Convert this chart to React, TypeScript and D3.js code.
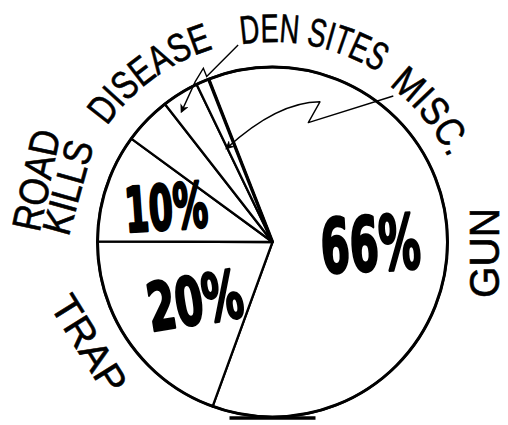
import React from "react";
import * as d3 from "d3";

// ---- data ----
const categories = ["GUN", "TRAP", "ROAD KILLS", "DISEASE", "DEN SITES", "MISC."];
// share of the circle each slice occupies as drawn (percent)
const sliceShares = [61.5, 19.5, 10.0, 4.4, 3.4, 1.2];
// printed percentage labels (only the three big slices carry one)
const pctLabels = ["66%", "20%", "10%", "", "", ""];

// ---- layout ----
const W = 508;
const H = 425;
const cx = 272.5;
const cy = 242;
const R = 175;
const startDeg = -21.4;

const rad = (d: number) => (d * Math.PI) / 180;
const polar = (deg: number, r: number): [number, number] => [
  cx + r * Math.sin(rad(deg)),
  cy - r * Math.cos(rad(deg)),
];

const handFont = "'Liberation Sans', Arial, sans-serif";
const boldFont = "'DejaVu Sans', sans-serif";

export default function App() {
  const pie = d3
    .pie<number>()
    .sort(null)
    .value((d) => d)
    .startAngle(rad(startDeg))
    .endAngle(rad(startDeg) + 2 * Math.PI);
  const arcs = pie(sliceShares);
  const arcGen = d3.arc<d3.PieArcDatum<number>>().innerRadius(0).outerRadius(R);

  const deg = (a: number) => (a * 180) / Math.PI;
  const a0 = (i: number) => deg(arcs[i].startAngle);
  const a1 = (i: number) => deg(arcs[i].endAngle);

  // percentage label placement (radius, font-size, length, rotation)
  const pctStyle: Record<number, { r: number; fs: number; len: number; rot: number; dAng: number }> = {
    0: { r: 98, fs: 75, len: 100, rot: -3, dAng: 1.5 },
    1: { r: 97, fs: 66, len: 96, rot: -9, dAng: -2 },
    2: { r: 112, fs: 62, len: 83, rot: -4, dAng: 0 },
  };

  // curved outer labels
  const arcPath = (centerDeg: number, span: number, r: number) => {
    const s = polar(centerDeg - span / 2, r);
    const e = polar(centerDeg + span / 2, r);
    return `M${s[0]},${s[1]} A${r},${r} 0 0 1 ${e[0]},${e[1]}`;
  };
  const curved = [
    { id: "lab-disease", text: categories[3], c: 324, r: 202, len: 134, fs: 40 },
    { id: "lab-den", text: categories[4], c: 11.5, r: 200, len: 143, fs: 40 },
    { id: "lab-misc", text: categories[5], c: 50.5, r: 195, len: 95, fs: 40 },
  ];

  // straight outer labels
  const gunPos = polar(93, 212);
  const trapPos = polar(240.9, 209.5);
  const roadPos = polar(284.7, 244);
  const killsPos = polar(285, 212);

  // annotation arrows
  const denPts = [
    polar(350.1, 200),
    polar(a1(5) - 0.3, 178),
    polar(a1(5) - 0.3, 187),
    polar(a0(5), 178),
    polar(325.1, 159),
  ];
  const denPath = d3.line()(denPts as [number, number][]) as string;

  const m0 = polar(39.6, 189.5);
  const m1 = polar(16.7, 124.6);
  const m2 = polar(18.7, 148);
  const m3 = polar(a0(5) - 0.4, 104.3);
  const mc = polar(2, 140);
  const miscPath = `M${m0[0]},${m0[1]} L${m1[0]},${m1[1]} L${m2[0]},${m2[1]} Q${mc[0]},${mc[1]} ${m3[0]},${m3[1]}`;

  const gunStart = polar(a0(0), R);

  return (
    <svg
      width={W}
      height={H}
      viewBox={`0 0 ${W} ${H}`}
      style={{ position: "fixed", left: 0, top: 0, background: "#fff" }}
    >
      <defs>
        <marker
          id="ah"
          viewBox="0 0 10 10"
          refX="8"
          refY="5"
          markerWidth="9"
          markerHeight="9"
          markerUnits="userSpaceOnUse"
          orient="auto"
        >
          <path d="M0,0 L10,5 L0,10 L3,5 Z" fill="#000" />
        </marker>
        {curved.map((c) => (
          <path key={c.id} id={c.id} d={arcPath(c.c, 90, c.r)} fill="none" />
        ))}
      </defs>
      <rect x={0} y={0} width={W} height={H} fill="#fff" />

      {/* slices */}
      <g transform={`translate(${cx},${cy})`}>
        {arcs.map((a, i) => (
          <path
            key={i}
            d={arcGen(a) as string}
            fill="#fff"
            stroke="#000"
            strokeWidth={2.3}
            strokeLinejoin="round"
          />
        ))}
      </g>
      {/* thicker boundary at the start of GUN */}
      <line x1={cx} y1={cy} x2={gunStart[0]} y2={gunStart[1]} stroke="#000" strokeWidth={3.4} />
      <circle cx={cx} cy={cy} r={R} fill="none" stroke="#000" strokeWidth={3} />
      <line x1={cx - 43} y1={cy + R + 1} x2={cx + 43} y2={cy + R + 1} stroke="#000" strokeWidth={3.5} />

      {/* percentage labels */}
      {arcs.map((a, i) => {
        const st = pctStyle[i];
        if (!st || !pctLabels[i]) return null;
        const mid = deg((a.startAngle + a.endAngle) / 2) + st.dAng;
        const [x, y] = polar(mid, st.r);
        return (
          <text
            key={"p" + i}
            transform={`translate(${x},${y}) rotate(${st.rot})`}
            y={st.fs * 0.36}
            textAnchor="middle"
            fontFamily={boldFont}
            fontWeight="bold"
            fontSize={st.fs}
            textLength={st.len}
            lengthAdjust="spacingAndGlyphs"
            fill="#000"
            stroke="#000"
            strokeWidth={2.8}
            strokeLinejoin="round"
          >
            {pctLabels[i]}
          </text>
        );
      })}

      {/* curved labels */}
      {curved.map((c) => (
        <text
          key={"t" + c.id}
          fontFamily={handFont}
          fontSize={c.fs}
          fill="#000"
          stroke="#000"
          strokeWidth={0.6}
        >
          <textPath
            href={"#" + c.id}
            startOffset="50%"
            textAnchor="middle"
            textLength={c.len}
            lengthAdjust="spacingAndGlyphs"
          >
            {c.text}
          </textPath>
        </text>
      ))}

      {/* straight labels */}
      <g fontFamily={handFont} fill="#000" stroke="#000" strokeWidth={0.6}>
        <text
          transform={`translate(${gunPos[0]},${gunPos[1]}) rotate(-90)`}
          y={14.5}
          textAnchor="middle"
          fontSize={42}
          textLength={90}
          lengthAdjust="spacingAndGlyphs"
        >
          {categories[0]}
        </text>
        <text
          transform={`translate(${trapPos[0]},${trapPos[1]}) rotate(58)`}
          y={14}
          textAnchor="middle"
          fontSize={39}
          textLength={108}
          lengthAdjust="spacingAndGlyphs"
        >
          {categories[1]}
        </text>
        <text
          transform={`translate(${roadPos[0]},${roadPos[1]}) rotate(-78)`}
          y={14}
          textAnchor="middle"
          fontSize={41}
          textLength={102}
          lengthAdjust="spacingAndGlyphs"
        >
          {categories[2].split(" ")[0]}
        </text>
        <text
          transform={`translate(${killsPos[0]},${killsPos[1]}) rotate(-74.5)`}
          y={14}
          textAnchor="middle"
          fontSize={40}
          textLength={96}
          lengthAdjust="spacingAndGlyphs"
        >
          {categories[2].split(" ")[1]}
        </text>
      </g>

      {/* annotation arrows */}
      <path d={denPath} fill="none" stroke="#000" strokeWidth={1.4} markerEnd="url(#ah)" />
      <path d={miscPath} fill="none" stroke="#000" strokeWidth={1.4} strokeLinejoin="round" markerEnd="url(#ah)" />
    </svg>
  );
}
